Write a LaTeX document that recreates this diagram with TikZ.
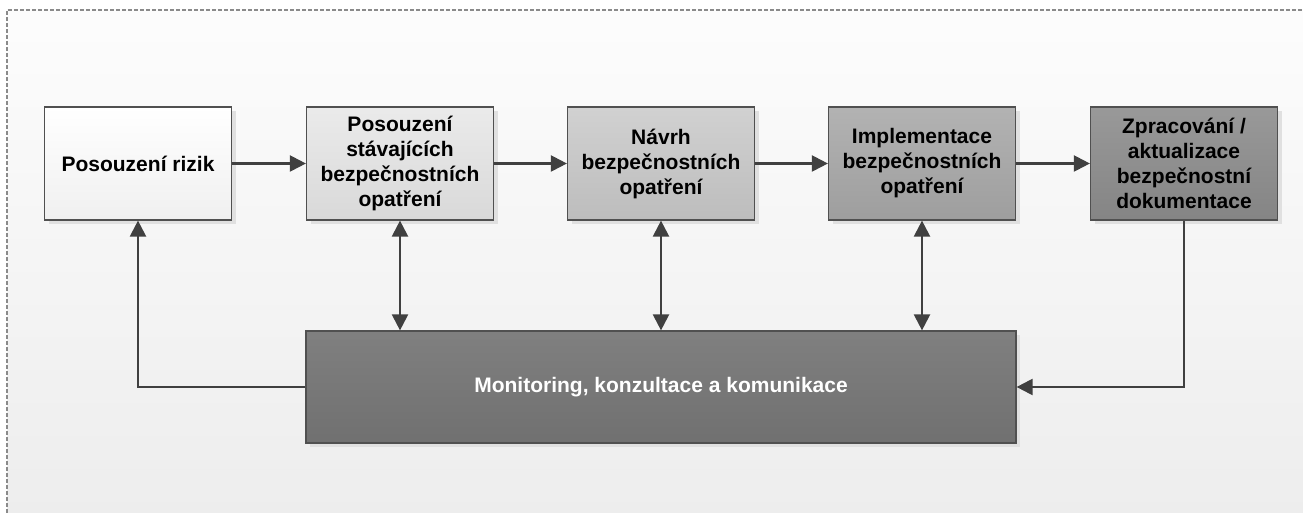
\documentclass[tikz,border=0pt]{standalone}
\usepackage{fontspec}
\setmainfont{Liberation Sans}
\usetikzlibrary{arrows.meta,shadows,calc}
\definecolor{edge}{HTML}{505050}
\definecolor{arrowc}{HTML}{404040}
\definecolor{frame}{HTML}{8A8A8A}
\tikzset{
  px/.style={x=0.5pt,y=-0.5pt},
  boxbase/.style={draw=edge, line width=0.6pt, minimum width=93.5pt, minimum height=56.5pt,
    align=center, inner sep=2pt, font=\fontsize{10.5}{12.5}\selectfont\bfseries,
    drop shadow={shadow xshift=2pt, shadow yshift=-2pt, fill=black!12, opacity=1}},
  shadeA/.style={boxbase, top color=white, bottom color=black!6},
  shadeB/.style={boxbase, top color=black!8, bottom color=black!15},
  shadeC/.style={boxbase, top color=black!18, bottom color=black!26},
  shadeD/.style={boxbase, top color=black!30, bottom color=black!38},
  shadeE/.style={boxbase, top color=black!40, bottom color=black!48},
  monbox/.style={draw=edge, line width=0.6pt, minimum width=355pt, minimum height=56pt,
    align=center, font=\fontsize{10.5}{12.5}\selectfont\bfseries, text=white,
    top color=black!50, bottom color=black!56,
    drop shadow={shadow xshift=2pt, shadow yshift=-2pt, fill=black!12, opacity=1}},
  conn/.style={draw=arrowc, line width=1.1pt, -{Triangle[length=8pt,width=8pt]}},
  dconn/.style={draw=arrowc, line width=1.1pt, {Triangle[length=8pt,width=8pt]}-{Triangle[length=8pt,width=8pt]}},
}
\begin{document}
\begin{tikzpicture}[px]
\useasboundingbox (0,0) rectangle (1303,513);
\fill[white] (0,0) rectangle (1303,513);
\shade[top color=black!1, bottom color=black!7] (7,10) rectangle (1303,513);
\draw[frame, line width=0.6pt, dash pattern=on 2pt off 1pt] (7,513) -- (7,10) -- (1303,10);

\node[shadeA] (b1) at (138,163.5) {Posouzení rizik};
\node[shadeB] (b2) at (400,163.5) {Posouzení\\stávajících\\bezpečnostních\\opatření};
\node[shadeC] (b3) at (661,163.5) {Návrh\\bezpečnostních\\opatření};
\node[shadeD] (b4) at (922,163.5) {Implementace\\bezpečnostních\\opatření};
\node[shadeE] (b5) at (1184,163.5) {Zpracování /\\aktualizace\\bezpečnostní\\dokumentace};
\node[monbox] (m) at (661,387) {Monitoring, konzultace a komunikace};

\draw[conn] (b1) -- (b2);
\draw[conn] (b2) -- (b3);
\draw[conn] (b3) -- (b4);
\draw[conn] (b4) -- (b5);

\draw[dconn] (b2.south) -- (b2.south |- m.north);
\draw[dconn] (b3.south) -- (b3.south |- m.north);
\draw[dconn] (b4.south) -- (b4.south |- m.north);

\draw[conn] (m.west) -| (b1.south);
\draw[conn] (b5.south) |- (m.east);
\end{tikzpicture}
\end{document}
